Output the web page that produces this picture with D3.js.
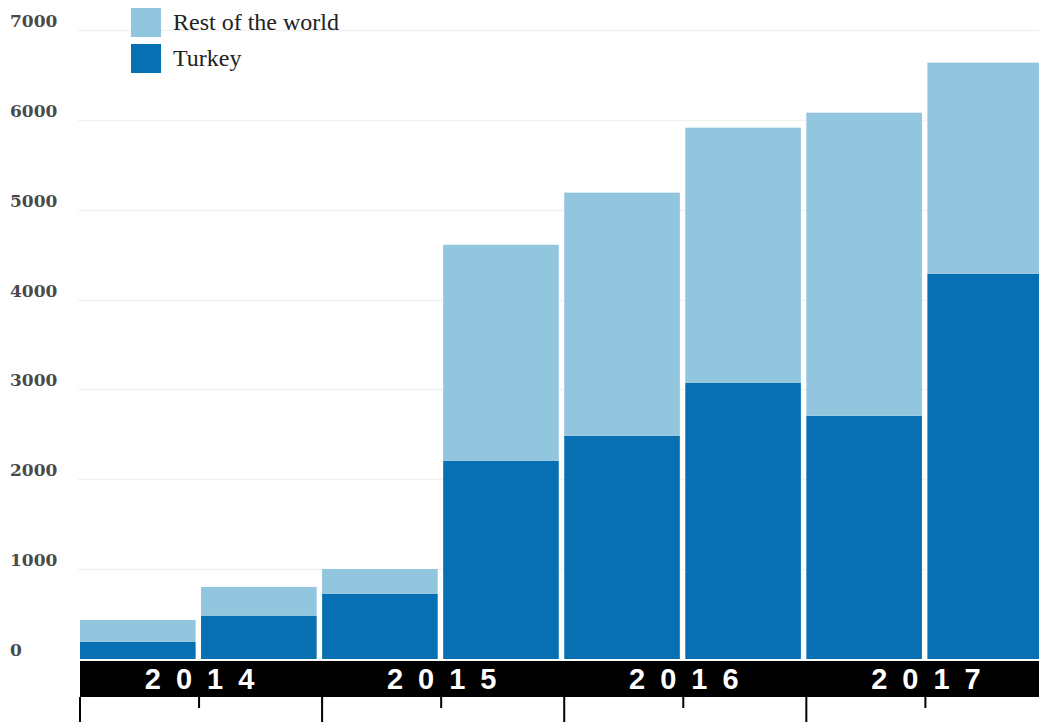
<!DOCTYPE html>
<html>
<head>
<meta charset="utf-8">
<script src="https://cdn.jsdelivr.net/npm/d3@7"></script>
<style>
  body { margin: 0; background: #fff; }
  svg { display: block; }
</style>
</head>
<body>
<script>
// half-year periods, two per year
var periods = ["2014a", "2014b", "2015a", "2015b", "2016a", "2016b", "2017a", "2017b"];
var years = ["2014", "2015", "2016", "2017"];
var turkey = [189, 479, 724, 2205, 2483, 3073, 2706, 4287];
var restOfWorld = [245, 323, 278, 2405, 2707, 2840, 3374, 2350];
var yTicks = [0, 1000, 2000, 3000, 4000, 5000, 6000, 7000];
var seriesNames = ["Rest of the world", "Turkey"];

var width = 1039, height = 722;
var colors = { "Turkey": "#0670b2", "Rest of the world": "#92c5de" };

var svg = d3.select("body")
    .append("svg")
    .attr("width", width)
    .attr("height", height);

var x = d3.scaleBand()
    .domain(periods)
    .range([80, 80 + 121 * 7 + 116])
    .paddingInner(0.045)
    .paddingOuter(0);

var y = d3.scaleLinear()
    .domain([0, 7000])
    .range([659, 30]);

// gridlines
svg.append("g")
    .selectAll("line")
    .data(yTicks.slice(1))
    .join("line")
    .attr("x1", 78)
    .attr("x2", width)
    .attr("y1", function (d) { return Math.round(y(d)) + 0.5; })
    .attr("y2", function (d) { return Math.round(y(d)) + 0.5; })
    .style("stroke", "#f1f1f1")
    .style("stroke-width", 1.5);

// y labels
svg.append("g")
    .selectAll("text")
    .data(yTicks)
    .join("text")
    .attr("x", 10)
    .attr("y", function (d) { return y(d) - 3; })
    .text(function (d) { return d; })
    .style("font-family", "'DejaVu Serif', Georgia, serif")
    .style("font-weight", "bold")
    .style("font-size", "17px")
    .style("fill", "#4a4a4a");

// stacked bars
var rows = periods.map(function (p, i) {
    return { period: p, "Turkey": turkey[i], "Rest of the world": restOfWorld[i] };
});
var stack = d3.stack().keys(["Turkey", "Rest of the world"])(rows);

svg.append("g")
    .selectAll("g")
    .data(stack)
    .join("g")
    .style("fill", function (s) { return colors[s.key]; })
    .selectAll("rect")
    .data(function (s) { return s; })
    .join("rect")
    .attr("x", function (d) { return x(d.data.period); })
    .attr("width", x.bandwidth())
    .attr("y", function (d) { return y(d[1]); })
    .attr("height", function (d) { return y(d[0]) - y(d[1]); });

// black year band
var bandTop = 661, bandBottom = 697;
svg.append("rect")
    .attr("x", 80)
    .attr("y", bandTop)
    .attr("width", width - 80)
    .attr("height", bandBottom - bandTop)
    .style("fill", "#000");

var yearX = function (yr, k) {
    // left edge of the first half-year of that year
    return x(yr + "a") + k * x.step();
};

svg.append("g")
    .selectAll("text")
    .data(years)
    .join("text")
    .attr("x", function (d) { return yearX(d, 1) + 6; })
    .attr("y", bandTop + 28)
    .attr("text-anchor", "middle")
    .text(function (d) { return d; })
    .style("font-family", "'Liberation Sans', Arial, sans-serif")
    .style("font-weight", "bold")
    .style("font-size", "29px")
    .style("letter-spacing", "15px")
    .style("fill", "#fff");

// ticks below the band
var tickG = svg.append("g").style("stroke", "#000").style("stroke-width", 2);
years.forEach(function (yr) {
    var x0 = yearX(yr, 0);
    tickG.append("line")
        .attr("x1", x0).attr("x2", x0)
        .attr("y1", bandBottom).attr("y2", height);
    var x1 = yearX(yr, 1) - 2;
    tickG.append("line")
        .attr("x1", x1).attr("x2", x1)
        .attr("y1", bandBottom).attr("y2", 708);
});

// legend
var legend = svg.append("g")
    .selectAll("g")
    .data(seriesNames)
    .join("g")
    .attr("transform", function (d, i) { return "translate(131," + (8 + i * 36) + ")"; });

legend.append("rect")
    .attr("width", 30)
    .attr("height", 29)
    .style("fill", function (d) { return colors[d]; });

legend.append("text")
    .attr("x", 42)
    .attr("y", 22)
    .text(function (d) { return d; })
    .style("font-family", "'Liberation Serif', Georgia, serif")
    .style("font-size", "24px")
    .style("fill", "#222");
</script>
</body>
</html>
